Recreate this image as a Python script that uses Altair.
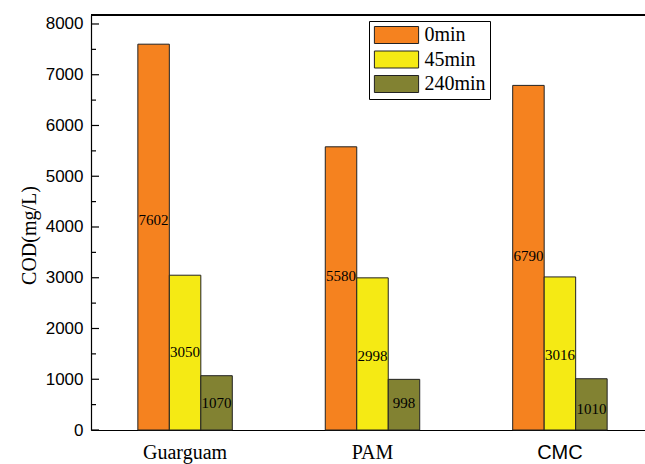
import altair as alt
import pandas as pd

materials = ["Guarguam", "PAM", "CMC"]
times = ["0min", "45min", "240min"]
cod_0 = [7602, 5580, 6790]
cod_45 = [3050, 2998, 3016]
cod_240 = [1070, 998, 1010]
# heights (in mg/L) at which the value labels sit inside each bar
label_y_0 = [4140, 3035, 3435]
label_y_45 = [1543, 1464, 1478]
label_y_240 = [532, 532, 414]
colors = ["#F5821F", "#F5EA14", "#828232"]
major_ticks = list(range(0, 8001, 1000))
minor_ticks = list(range(500, 8000, 1000))

rows = []
for t, vals, ly in zip(times, [cod_0, cod_45, cod_240], [label_y_0, label_y_45, label_y_240]):
    for m, v, l in zip(materials, vals, ly):
        rows.append({"material": m, "time": t, "cod": v, "label_y": l})
df = pd.DataFrame(rows)

W, H = 554, 415
yscale = alt.Scale(domain=[0, 8177], nice=False)
xscale = alt.Scale(range=[0, 563], paddingInner=0.496, paddingOuter=0.25)

yaxis = alt.Axis(
    values=major_ticks, format="d", ticks=False, grid=False,
    domainColor="black", domainWidth=1.2,
    labelFont="Liberation Sans", labelFontSize=17, labelColor="black", labelPadding=8,
    title="COD(mg/L)", titleFont="Liberation Serif", titleFontSize=20,
    titleFontWeight="normal", titleColor="black",
    titleX=-61.5, titleY=220, titleAngle=270, titleBaseline="middle", titleAlign="center",
)
xaxis = alt.Axis(
    title=None, labelAngle=0, ticks=False, domainColor="black", domainWidth=1.2,
    labelFontSize=20, labelColor="black", labelPadding=12,
    labelFont={"condition": {"test": "datum.value === 'CMC'", "value": "Liberation Sans"},
               "value": "Liberation Serif"},
)

x_enc = alt.X("material:N", sort=materials, scale=xscale, axis=xaxis)
xoff = alt.XOffset("time:N", sort=times, scale=alt.Scale(paddingInner=0, paddingOuter=0))

bars = alt.Chart(df).mark_bar(stroke="#222222", strokeWidth=1).encode(
    x=x_enc,
    xOffset=xoff,
    y=alt.Y("cod:Q", scale=yscale, axis=yaxis),
    color=alt.Color(
        "time:N", sort=times, scale=alt.Scale(domain=times, range=colors),
        legend=alt.Legend(
            title=None, orient="none", legendX=278, legendY=6,
            strokeColor="black", fillColor="white", padding=4,
            symbolType="M-2.6,-1H2.6V1H-2.6Z", symbolSize=289,
            symbolStrokeColor="#222222", symbolStrokeWidth=1, symbolOpacity=1,
            symbolOffset=13.5, labelOffset=18, rowPadding=2.5,
            labelFont="Liberation Serif", labelFontSize=20, labelColor="black",
        ),
    ),
)

labels = alt.Chart(df).mark_text(
    font="Liberation Serif", fontSize=15, color="black", baseline="middle", align="center"
).encode(
    x=x_enc,
    xOffset=xoff,
    y=alt.Y("label_y:Q", scale=yscale, axis=yaxis),
    text=alt.Text("cod:Q", format="d"),
)

major_df = pd.DataFrame({"cod": major_ticks})
minor_df = pd.DataFrame({"cod": minor_ticks})
major = alt.Chart(major_df).mark_rule(color="black", strokeWidth=1.2).encode(
    y=alt.Y("cod:Q", scale=yscale, axis=yaxis), x=alt.value(0), x2=alt.value(8)
)
minor = alt.Chart(minor_df).mark_rule(color="black", strokeWidth=1.2).encode(
    y=alt.Y("cod:Q", scale=yscale, axis=yaxis), x=alt.value(0), x2=alt.value(5)
)
top = alt.Chart(major_df).mark_rule(color="black", strokeWidth=1.2).encode(
    x=alt.value(0), x2=alt.value(W), y=alt.value(0)
)

chart = alt.layer(bars, labels, major, minor, top).properties(
    width=W, height=H,
    padding={"left": 91, "top": 15, "right": 0, "bottom": 34},
    autosize="none",
    background="white",
).configure_view(stroke=None)

chart.save("out.html", embed_options={"renderer": "svg", "actions": False})
